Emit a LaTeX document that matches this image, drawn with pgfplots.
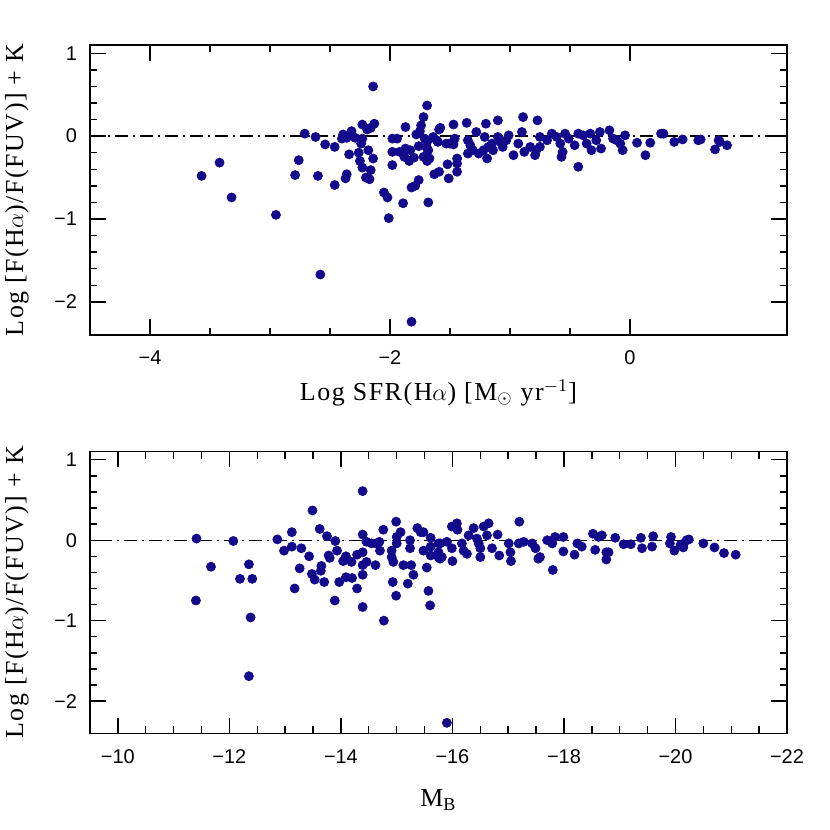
\documentclass[border=0pt]{standalone}
\usepackage{fontspec}
\setmainfont{Liberation Serif}
\newfontfamily\labfont[LetterSpace=6]{Liberation Serif}
\newfontfamily\tickfont{Liberation Sans}
\usepackage{pgfplots}
\pgfplotsset{compat=1.18}
\definecolor{dotc}{RGB}{19,11,140}

\pgfplotstableread{
x y
-3.57 -0.48
-3.42 -0.32
-3.32 -0.74
-2.95 -0.95
-2.71 0.03
-2.62 -0.01
-2.76 -0.29
-2.79 -0.47
-2.60 -0.48
-2.54 -0.10
-2.46 -0.13
-2.46 -0.59
-2.58 -1.67
-2.39 0.02
-2.40 -0.03
-2.36 -0.02
-2.32 0.06
-2.29 -0.02
-2.34 -0.22
-2.36 -0.46
-2.37 -0.51
-2.23 0.14
-2.19 0.08
-2.14 0.60
-2.13 0.15
-2.16 0.10
-2.23 -0.03
-2.24 -0.09
-2.26 -0.20
-2.18 -0.17
-2.14 -0.27
-2.25 -0.30
-2.23 -0.38
-2.16 -0.41
-2.20 -0.50
-2.17 -0.52
-2.05 -0.68
-2.02 -0.74
-2.01 -0.99
-1.98 -0.03
-1.94 -0.03
-1.98 -0.19
-1.98 -0.35
-1.89 -0.81
-1.87 0.11
-1.78 0.02
-1.75 0.06
-1.74 0.13
-1.72 0.23
-1.69 0.37
-1.82 -2.24
-1.92 -0.19
-1.87 -0.15
-1.83 -0.17
-1.88 -0.25
-1.84 -0.30
-1.80 -0.26
-1.76 -0.12
-1.71 -0.03
-1.69 -0.15
-1.72 -0.25
-1.69 -0.30
-1.67 -0.27
-1.63 -0.46
-1.59 -0.43
-1.82 -0.62
-1.79 -0.60
-1.76 -0.53
-1.68 -0.80
-1.64 -0.01
-1.60 -0.07
-1.59 0.08
-1.69 -0.07
-1.68 -0.17
-1.61 -0.05
-1.58 0.10
-1.53 -0.09
-1.50 -0.09
-1.47 -0.10
-1.47 0.14
-1.46 -0.03
-1.44 -0.27
-1.44 -0.43
-1.51 -0.51
-1.52 -0.34
-1.44 -0.33
-1.36 0.16
-1.20 0.15
-1.10 0.19
-0.89 0.23
-0.77 0.19
-1.28 0.05
-1.35 -0.05
-1.33 -0.11
-1.35 -0.21
-1.31 -0.17
-1.26 -0.21
-1.22 -0.17
-1.19 -0.27
-1.18 -0.13
-1.21 -0.01
-1.15 -0.09
-1.14 -0.17
-1.10 -0.01
-1.08 -0.07
-1.06 -0.13
-1.03 -0.05
-1.01 0.01
-0.97 -0.23
-0.93 -0.09
-0.90 0.05
-0.88 -0.19
-0.83 -0.13
-0.79 -0.23
-0.78 -0.17
-0.75 -0.13
-0.75 -0.01
-0.69 -0.05
-0.65 0.03
-0.61 -0.01
-0.58 -0.09
-0.56 -0.19
-0.57 -0.25
-0.54 0.03
-0.51 -0.03
-0.46 -0.11
-0.43 0.03
-0.43 -0.37
-0.39 0.01
-0.36 -0.09
-0.33 0.03
-0.32 -0.17
-0.28 -0.05
-0.25 0.05
-0.24 -0.15
-0.17 0.07
-0.14 -0.03
-0.11 -0.05
-0.08 -0.09
-0.06 -0.17
-0.04 0.01
0.06 -0.08
0.13 -0.23
0.17 -0.08
0.26 0.03
0.28 0.03
0.37 -0.07
0.44 -0.04
0.57 -0.05
0.59 -0.04
0.71 -0.16
0.74 -0.05
0.75 -0.07
0.81 -0.11
}\topdata

\pgfplotstableread{
x y
-11.41 0.02
-11.40 -0.75
-11.67 -0.33
-12.07 -0.01
-12.19 -0.48
-12.35 -0.30
-12.41 -0.48
-12.38 -0.96
-12.35 -1.69
-12.86 0.01
-12.98 -0.13
-13.12 0.10
-13.12 -0.08
-13.29 -0.10
-13.26 -0.35
-13.17 -0.60
-13.43 -0.20
-13.49 0.37
-13.62 0.14
-13.75 0.05
-13.90 -0.01
-13.48 -0.42
-13.53 -0.49
-13.65 -0.32
-13.64 -0.38
-13.70 -0.52
-13.78 -0.19
-13.80 -0.22
-13.93 -0.13
-13.89 -0.75
-13.97 -0.52
-14.04 -0.26
-14.09 -0.20
-14.09 -0.46
-14.20 -0.47
-14.19 -0.27
-14.29 -0.60
-14.29 -0.18
-14.39 0.61
-14.39 0.07
-14.39 -0.15
-14.39 -0.31
-14.39 -0.43
-14.39 -0.83
-14.46 -0.27
-14.46 -0.02
-14.55 -0.04
-14.63 -0.04
-14.69 -0.02
-14.70 -0.13
-14.62 -0.31
-14.76 0.13
-14.77 -1.00
-14.93 -0.52
-14.91 -0.13
-14.91 -0.21
-14.94 -0.27
-14.99 0.23
-15.00 0.04
-15.00 -0.04
-14.99 -0.69
-15.07 0.10
-15.12 -0.31
-15.20 -0.54
-15.24 0.00
-15.24 -0.10
-15.26 -0.31
-15.30 -0.43
-15.37 0.15
-15.43 0.10
-15.48 0.10
-15.48 -0.13
-15.54 -0.34
-15.57 -0.63
-15.60 -0.81
-15.61 0.03
-15.61 -0.08
-15.61 -0.19
-15.75 -0.04
-15.75 -0.21
-15.78 -0.04
-15.75 -0.15
-15.81 -0.21
-15.78 -0.23
-15.90 -0.02
-15.99 0.17
-16.08 0.21
-16.09 0.13
-15.99 -0.10
-16.00 -0.26
-16.17 -0.04
-16.20 -0.13
-16.26 -0.17
-16.29 0.06
-16.38 0.15
-16.44 0.02
-16.47 -0.04
-16.50 -0.10
-16.50 -0.21
-16.56 0.17
-16.65 0.21
-16.62 0.06
-16.71 -0.10
-16.81 0.07
-16.84 -0.19
-17.01 -0.04
-17.04 -0.15
-17.05 -0.26
-17.20 0.23
-17.19 -0.04
-17.28 -0.02
-17.43 -0.04
-17.49 -0.10
-17.54 -0.23
-17.57 -0.21
-17.70 0.00
-17.79 -0.04
-17.84 0.04
-17.99 0.04
-17.80 -0.37
-17.99 -0.14
-18.19 -0.18
-18.24 -0.04
-18.32 -0.08
-18.52 0.08
-18.62 0.04
-18.68 0.06
-18.56 -0.12
-18.76 -0.24
-18.76 -0.15
-18.80 -0.15
-18.92 0.03
-19.07 -0.05
-19.20 -0.05
-19.38 0.03
-19.40 -0.10
-19.60 0.05
-19.58 -0.08
-19.92 0.04
-19.90 -0.04
-19.98 -0.13
-20.09 -0.06
-20.15 -0.04
-20.20 0.00
-20.24 0.01
-20.14 -0.09
-20.50 -0.04
-20.70 -0.09
-20.87 -0.16
-21.08 -0.18
-15.90 -2.27
}\botdata

\pgfplotsset{
  myax/.style={
    scale only axis,
    width=348.5bp,
    axis line style={line width=0.8pt},
    every tick/.style={black, line width=0.7pt},
    major tick length=7.8bp,
    minor tick length=3.7bp,
    tick align=inside,
    ymin=-2.4, ymax=1.1,
    ytick={-2,-1,0,1},
    yticklabels={−2,−1,0,1},
    minor y tick num=4,
    minor x tick num=3,
    ticklabel style={font=\tickfont\fontsize{10}{12}\selectfont},
    yticklabel style={xshift=-3bp},
    xticklabel style={yshift=-4.5bp},
    label style={font=\labfont\fontsize{13}{15}\selectfont},
    ylabel style={at={(axis description cs:-0.1047,0.5)}, anchor=center, rotate=0},
    ylabel={Log [F(H$\alpha$)/F(FUV)] + K},
  },
  dotstyle/.style={only marks, mark=*, mark size=2.25bp, mark options={draw=dotc, fill=dotc}},
  zeroline/.style={black, line width=0.65pt, dash pattern=on 6.5bp off 2.5bp on 1bp off 2.5bp, forget plot},
}

\begin{document}
\begin{tikzpicture}
\useasboundingbox (0,0) rectangle (415bp,415bp);
\begin{axis}[myax,
  at={(45bp,247.5bp)}, anchor=south west,
  height=145bp,
  xmin=-4.5, xmax=1.31,
  xtick={-4,-2,0},
  xticklabels={−4,−2,0},
  xlabel style={at={(axis description cs:0.5,-0.2)}, anchor=center},
  xlabel={Log SFR(H$\alpha$) [M$_\odot$ yr$^{-1}$]},
]
\addplot[zeroline] coordinates {(-4.5,0) (1.31,0)};
\addplot[dotstyle] table[x=x,y=y] {\topdata};
\end{axis}
\begin{axis}[myax,
  at={(45bp,48.35bp)}, anchor=south west,
  height=140.8bp,
  x dir=reverse,
  xmin=-22, xmax=-9.5,
  xtick={-10,-12,-14,-16,-18,-20,-22},
  xticklabels={−10,−12,−14,−16,−18,−20,−22},
  xlabel style={at={(axis description cs:0.5,-0.238)}, anchor=center},
  xlabel={M$_{\mathrm{B}}$},
]
\addplot[zeroline] coordinates {(-22,0) (-9.5,0)};
\addplot[dotstyle] table[x=x,y=y] {\botdata};
\end{axis}
\end{tikzpicture}
\end{document}
